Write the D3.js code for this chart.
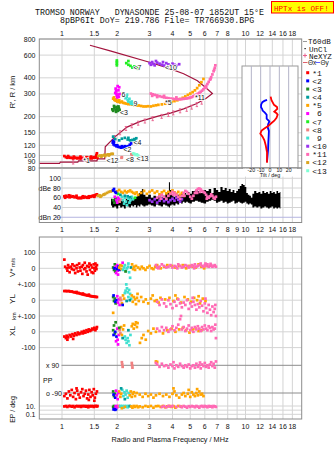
<!DOCTYPE html>
<html lang="en">
<head>
<meta charset="utf-8">
<title>Dynasonde ionogram</title>
<style>
  body { margin: 0; background: #fff; }
  svg { display: block; }
  text { font-family: "Liberation Sans", Arial, sans-serif; fill: #111; }
  .mono { font-family: "Liberation Mono", "DejaVu Sans Mono", monospace; white-space: pre; }
</style>
<script src="https://cdn.jsdelivr.net/npm/d3@7/dist/d3.min.js"></script>
</head>
<body>
<svg id="chart" width="335" height="451"></svg>
<script>
// ---- axes / categories ----
const freqTicks = [1, 1.5, 2, 3, 4, 5, 6, 7, 8, 9, 10, 12, 14, 16, 18];
const heightTicks = [80, 90, 100, 120, 150, 200, 300, 400, 600, 800];
const ampTicks = [20, 40, 60, 80, 100];
const tiltTicks = [-20, -10, 0, 10, 20];
const echoNames = ['*1', '<2', '<3', '<4', '*5', ' 6', '<7', '<8', ' 9', '<10', '*11', '<12', '<13'];
const echoColors = ['#ff0000', '#0000ff', '#208a20', '#009c9c', '#ffa500', '#ff00ff', '#22ee22',
                    '#f08080', '#40e0d0', '#9933ee', '#ff69b4', '#daa520', '#7fffd4'];

// ---- echo traces: [MHz, virtual height km] ----
const trace1 = [[1.03,99],[1.05,97],[1.07,96],[1.09,97],[1.11,96],[1.13,96],[1.15,95],[1.17,96],[1.19,96],[1.21,95],[1.23,96],[1.25,95],[1.27,95],[1.29,96],[1.31,95],[1.33,94],[1.35,95],[1.37,95],[1.39,96],[1.41,95],[1.43,96],[1.45,95],[1.47,96],[1.49,97],[1.51,96],[1.53,98],[1.54,101],[1.55,104],[1.55,99],[1.56,96],[1.08,99],[1.16,98],[1.26,98],[1.36,97],[1.44,98]];
const trace2 = [[1.89,126],[1.91,122],[1.94,120],[1.98,118],[2.02,117],[2.06,116],[2.1,115],[2.14,116],[2.18,115],[2.22,116],[2.26,117],[2.3,118],[2.34,121],[2.38,124],[1.9,130],[1.92,127],[2.0,120],[2.12,118],[2.2,118]];
const trace3 = [[1.88,228],[1.9,222],[1.93,232],[1.96,226],[1.98,238],[2.0,230],[2.02,222],[2.04,234],[2.06,226],[1.92,242],[1.97,218],[2.03,240]];
const trace4 = [[1.9,140],[1.95,134],[2.05,131],[2.12,135],[2.2,137],[2.28,133],[2.35,131],[2.42,132],[2.48,134],[2.54,136],[2.5,131],[2.3,137]];
const trace5 = [[1.9,276],[1.93,270],[1.96,266],[2.0,262],[2.04,260],[2.08,258],[2.12,262],[2.16,256],[2.2,254],[2.25,252],[2.3,250],[2.36,250],[2.42,248],[2.48,246],[2.55,244],[2.62,244],[2.7,242],[2.78,240],[2.86,240],[2.95,241],[3.05,240],[3.15,243],[3.25,245],[3.35,247],[3.5,249],[3.65,252],[3.8,256],[3.95,260],[4.1,264],[4.25,268],[4.4,274],[4.55,280],[4.7,287],[4.85,295],[5.0,302],[5.15,310],[5.3,320],[5.45,333],[5.6,350],[5.75,370],[5.9,392],[1.92,282],[1.98,272],[2.05,268]];
const trace6 = [[1.96,330],[1.97,315],[1.98,300],[1.99,290],[2.0,282],[2.02,296],[2.03,320],[2.05,338],[1.95,305],[2.04,285],[2.06,300],[2.01,345]];
const trace7 = [[1.99,545],[1.99,530],[1.99,515],[1.99,500],[2.24,520],[2.3,505],[2.36,495],[2.42,480],[2.48,490],[2.55,478],[2.6,470],[2.3,540]];
const trace8 = [[2.11,96],[2.12,97],[2.39,103],[2.4,101]];
const trace9 = [[2.2,290],[2.22,278],[2.25,285],[2.28,270],[2.3,262],[2.33,275],[2.36,258],[2.4,262],[2.43,250],[2.26,296],[2.38,252]];
const trace10 = [[3.0,520],[3.05,505],[3.1,530],[3.15,512],[3.2,500],[3.3,525],[3.4,515],[3.5,505],[3.6,498],[3.7,520],[3.8,508],[3.9,500],[4.0,515],[4.1,505],[4.2,495],[4.35,510],[3.25,540],[3.55,530]];
const trace11 = [[3.05,302],[3.12,298],[3.2,295],[3.3,292],[3.4,288],[3.5,285],[3.6,282],[3.7,280],[3.8,278],[3.9,276],[4.0,275],[4.1,274],[4.2,274],[4.3,273],[4.4,273],[4.5,274],[4.6,275],[4.7,276],[4.8,277],[4.9,279],[5.0,281],[5.1,284],[5.2,288],[5.3,292],[5.4,296],[5.5,301],[5.6,306],[5.7,312],[5.8,318],[5.9,326],[6.0,336],[6.1,346],[6.2,358],[6.3,372],[6.4,388],[6.5,405],[6.6,425],[6.7,450],[6.8,478],[6.85,500],[3.1,290],[3.3,284],[3.6,290],[4.2,282],[5.6,296],[6.1,335],[6.45,392],[6.75,462]];
const trace12 = [[1.58,99],[1.62,100],[1.66,100],[1.7,101],[1.74,101],[1.78,102],[1.82,102],[1.86,103],[1.89,103],[1.64,98],[1.72,99],[1.8,100]];
const trace13 = [[2.44,104],[2.48,103],[2.52,101],[2.56,102],[2.6,100]];
const echoLabels = [['*1',1.307,92],['<12',1.75,92],['<8',2.23,93],['<13',2.55,94],['<2',2.16,111],['<4',2.45,126],
                    ['<3',2.07,217],['6',2.11,295],['9',2.45,254],['<7',2.45,477],['<10',3.64,477],['*5',3.64,259],['*11',5.3,283]];

// real-height profile [MHz, km] and NeXYZ points
const profile = [[0.752,87],[0.97,87],[0.98,89],[1.22,89],[1.23,91],[1.55,91],[1.56,94],[1.71,94],[1.72,117],[1.95,140],[2.26,166],[2.67,184],[3.3,201],[3.9,213],[4.6,230],[5.35,251],[6.06,275],[6.6,302],[6.06,337],[5.47,380],[4.6,430],[3.8,476],[3.03,526],[1.83,647],[1.42,716]];
const neXYZ = [[1.15,89],[1.94,138],[2.07,150],[2.23,162],[2.4,170],[2.6,178],[2.83,185],[3.12,193],[3.49,201],[3.8,208],[4.04,214],[4.4,222],[4.78,228],[5.09,237],[5.43,248],[5.77,259]];

// tilt [km, deg]
const thetaX = [[286,0.7],[270,1.5],[247,4.3],[238,7.5],[230,7.8],[219,4.6],[213,7],[207,8.2],[196,7],[186,4.6],[177,1],[169,-2],[162,-6],[156,-9],[148,-10.4],[140,-8],[131,-6],[120,-4.6],[106,-3.2],[88,-3.2]];
const thetaY = [[270,-3.2],[265,-6],[259,-8.2],[248,-9.5],[237,-9.6],[230,-8.5],[223,-7.9],[215,-5.5],[207,-3.6],[193,-3.6],[184,-0.7],[175,-2],[166,-2.5],[155,-1.2],[143,-1.4],[127,-1.8],[110,-2.1],[89,-3.2]];

// ---- amplitude dB ----
const ampUnclassified = [[1.85,44,58],[1.9,40,55],[1.95,42,60],[2.0,38,52],[2.05,44,58],[2.1,40,56],[2.15,42,54],[2.2,38,50],[2.25,44,58],[2.3,42,56],[2.35,40,52],[2.4,44,60],[2.45,42,55],[2.5,45,58],[2.55,40,62],[2.6,44,66],[2.65,42,70],[2.7,46,74],[2.75,44,78],[2.8,42,66],[2.9,44,62],[3.0,46,66],[3.1,44,60],[3.2,42,64],[3.3,46,62],[3.4,44,66],[3.5,42,62],[3.6,46,64],[3.7,44,68],[3.8,42,74],[3.85,40,92],[3.9,44,76],[4.0,46,66],[4.1,44,62],[4.2,48,64],[4.3,46,66],[4.4,50,62],[4.5,48,68],[4.6,52,64],[4.7,50,70],[4.8,52,66],[4.9,50,72],[5.0,48,68],[5.2,52,74],[5.4,54,76],[5.6,52,74],[5.8,50,70],[6.0,48,76],[6.2,52,74],[6.4,54,78],[6.6,56,70],[6.8,54,80],[7.0,50,76],[7.2,52,72],[7.4,54,82],[7.6,50,76],[7.8,52,80],[8.0,48,74],[8.2,50,78],[8.4,52,72],[8.6,54,76],[8.8,48,70],[9.0,50,74],[9.2,52,78],[9.4,50,84],[9.6,48,88],[9.8,50,86],[10.0,52,82],[10.2,48,70],[10.4,46,66],[10.6,48,64],[10.8,46,60],[11.0,40,68],[11.3,42,74],[11.6,40,70],[11.9,42,72],[12.2,38,68],[12.5,40,74],[12.8,42,70],[13.1,40,72],[13.4,38,68],[13.7,40,74],[14.0,42,70],[14.3,38,72],[14.6,40,68],[14.9,38,74],[15.2,40,70],[15.5,38,72]];
const ampRed = [[1.03,63],[1.05,64],[1.07,62],[1.09,65],[1.11,64],[1.13,62],[1.15,63],[1.17,61],[1.19,62],[1.21,60],[1.23,59],[1.25,60],[1.27,59],[1.29,61],[1.31,60],[1.33,62],[1.35,61],[1.37,60],[1.39,62],[1.41,63],[1.43,62],[1.45,63],[1.47,64],[1.49,64],[1.51,65],[1.53,66],[1.55,67],[1.04,60],[1.1,61],[1.2,64],[1.3,63],[1.4,60],[1.5,62]];
const ampGold = [[1.57,64],[1.6,65],[1.64,64],[1.68,66],[1.72,68],[1.76,70],[1.8,72],[1.84,73],[1.88,74],[1.62,62],[1.7,67]];
const ampMix = [[1.9,55,3],[1.93,50,3],[1.96,58,3],[1.94,62,6],[1.98,55,6],[2.0,50,6],[2.02,60,6],[2.04,57,6],[2.06,52,8],[2.1,56,8],[2.0,73,5],[2.05,76,5],[2.1,72,5],[2.15,70,5],[2.2,74,5],[2.25,71,5],[2.3,73,5],[2.35,75,5],[2.4,72,5],[2.45,70,5],[2.5,68,5],[2.55,71,5],[2.12,62,9],[2.15,55,9],[2.18,48,9],[2.2,60,9],[2.23,52,9],[2.26,45,9],[2.3,58,9],[2.33,50,9],[2.36,55,9],[2.4,62,9],[2.43,57,9],[2.08,66,4],[2.2,64,4],[2.28,63,4],[2.35,61,4],[2.5,60,7],[2.02,68,7],[1.9,75,2],[1.92,78,2],[1.95,72,2],[1.97,70,2]];
const ampOrange = [[2.6,66],[2.7,70],[2.8,74],[2.9,68],[3.0,72],[3.1,75],[3.2,70],[3.3,73],[3.4,67],[3.5,71],[3.6,74],[3.7,69],[3.8,72],[3.9,70],[4.0,75],[4.1,71],[4.2,68],[4.3,72],[4.4,66],[4.5,70],[4.6,64]];
const ampPurple = [[3.0,55],[3.1,52],[3.2,57],[3.3,50],[3.4,54],[3.5,58],[3.6,53],[3.7,56],[3.8,51],[3.9,55],[4.0,58],[4.1,54],[4.2,60],[4.3,56],[4.4,52],[4.5,57]];
const ampPink = [[3.3,60],[3.4,63],[3.5,66],[3.6,62],[3.7,58],[3.8,64],[3.9,68],[4.0,72],[4.1,70],[4.2,66],[4.3,62],[4.4,58],[4.5,64],[4.6,70],[4.7,74],[4.8,72],[4.9,68],[5.0,62],[5.1,58],[5.2,64],[5.3,70],[5.4,75],[5.5,78],[5.6,79],[5.7,77],[5.8,74],[5.9,72],[6.0,70],[6.1,66],[6.2,62],[6.3,60],[6.4,63],[6.5,67],[6.6,64],[6.7,60],[6.8,58],[6.9,62],[3.45,58],[4.05,66],[4.65,64],[5.45,70],[5.65,72],[6.15,58]];

// ---- V* m/s ----
const vsRed = [[1.03,55],[1.04,10],[1.06,0],[1.07,-15],[1.08,20],[1.09,5],[1.1,-25],[1.12,10],[1.13,-5],[1.14,25],[1.16,-10],[1.17,15],[1.18,-30],[1.2,0],[1.21,20],[1.22,-20],[1.24,30],[1.25,5],[1.26,-15],[1.28,10],[1.29,-35],[1.3,20],[1.32,-5],[1.33,35],[1.34,0],[1.36,-20],[1.37,15],[1.38,-40],[1.4,10],[1.41,30],[1.42,-10],[1.44,20],[1.45,-25],[1.46,5],[1.48,-30],[1.49,25],[1.5,0],[1.51,-15],[1.52,30],[1.53,10],[1.54,-5],[1.55,20]];
const vsMix = [[1.9,5,3],[1.92,-10,3],[1.94,25,3],[1.95,-20,3],[1.96,10,6],[1.97,-30,6],[1.98,0,6],[2.0,20,6],[2.01,-15,6],[1.93,0,2],[1.99,-5,2],[2.03,10,2],[2.06,-10,2],[2.02,-40,6],[2.05,5,5],[2.08,20,5],[2.1,-5,5],[2.12,15,5],[2.15,-10,9],[2.18,5,9],[2.2,20,9],[2.23,-15,9],[2.26,0,9],[2.29,10,9],[2.32,-25,9],[2.35,-60,9],[2.38,5,4],[2.41,25,5],[2.44,-5,5],[2.47,10,5],[2.5,-10,5],[2.53,15,5],[2.22,-20,3],[2.3,30,9],[2.14,35,6]];
const vsOrange = [[2.6,5],[2.66,-5],[2.72,10],[2.78,0],[2.85,-10],[2.92,5],[3.0,15],[3.08,0],[3.15,-5],[3.22,10],[3.3,20],[3.38,5],[3.45,0],[3.6,10],[3.75,20],[3.95,15],[4.15,5],[4.35,15],[4.55,20],[4.75,0],[4.95,15],[5.15,10],[5.35,5],[5.55,25],[5.75,10],[5.95,0],[6.15,15]];
const vsPink = [[3.25,20],[3.3,5],[3.4,10],[3.5,25],[3.6,15],[3.7,5],[3.8,10],[3.9,20],[4.0,5],[4.1,15],[4.2,10],[4.3,25],[4.4,15],[4.5,5],[4.6,10],[4.7,20],[4.8,15],[4.9,5],[5.0,10],[5.1,20],[5.2,15],[5.3,25],[5.4,10],[5.5,15],[5.6,20],[5.7,30],[5.8,15],[5.9,10],[6.0,20],[6.1,15],[6.2,25],[6.3,10],[6.4,15],[6.5,20],[6.6,10],[6.7,15],[6.8,20],[6.9,10],[3.35,0],[4.25,0],[5.25,0],[6.05,30],[6.45,28]];

// ---- YL km ----
const ylRed = [[1.03,58],[1.05,58],[1.07,57],[1.09,58],[1.11,55],[1.13,55],[1.15,52],[1.17,50],[1.19,48],[1.21,45],[1.23,46],[1.25,42],[1.27,40],[1.29,38],[1.31,36],[1.33,34],[1.35,33],[1.37,30],[1.39,30],[1.41,28],[1.43,26],[1.45,25],[1.47,24],[1.49,23],[1.51,22],[1.53,21],[1.55,20],[1.2,52],[1.3,42],[1.4,35]];
const ylMix = [[1.9,20,3],[1.92,-5,3],[1.94,10,3],[1.96,-20,3],[1.91,30,2],[1.95,-10,2],[1.98,0,2],[2.0,25,6],[2.02,-15,6],[2.04,5,6],[2.06,-30,6],[2.08,15,8],[2.1,0,8],[2.12,-20,5],[2.15,30,5],[2.18,10,5],[2.2,45,9],[2.22,60,9],[2.24,100,9],[2.26,75,9],[2.28,50,9],[2.3,20,9],[2.32,65,9],[2.35,40,9],[2.38,10,9],[2.4,30,5],[2.43,-10,5],[2.46,20,5],[2.5,5,5],[2.53,-25,5],[2.56,15,5],[2.58,40,5],[1.9,-80,5],[2.14,-30,2],[2.25,-5,4],[2.34,0,4]];
const ylOrange = [[2.62,-5],[2.7,20],[2.78,-10],[2.86,5],[2.95,-20],[3.05,10],[3.12,30],[3.2,-5],[3.28,0],[3.36,-15],[3.44,15],[3.65,5],[3.85,15],[4.05,-5],[4.25,10],[4.45,-15],[4.65,20],[4.85,5],[5.05,-10],[5.25,15],[5.45,0],[5.65,-20],[5.85,10],[6.05,-5],[4.15,30],[5.55,25]];
const ylPink = [[3.3,-10],[3.4,-30],[3.5,5],[3.6,-20],[3.7,-40],[3.8,0],[3.9,-25],[4.0,-50],[4.1,-10],[4.2,-35],[4.3,5],[4.4,-20],[4.5,-45],[4.6,-15],[4.7,-30],[4.8,0],[4.9,-55],[5.0,-20],[5.1,-40],[5.2,-10],[5.3,-30],[5.4,-60],[5.5,-25],[5.6,-45],[5.7,-5],[5.8,-35],[5.9,-70],[6.0,-20],[6.1,-50],[6.2,-80],[6.3,-30],[6.4,-60],[6.5,-95],[6.6,-40],[6.7,-75],[6.8,-55],[6.9,-100],[6.85,-30],[6.05,10],[5.15,15]];

// ---- XL km ----
const xlRed = [[1.03,-30],[1.05,-40],[1.06,-25],[1.08,-35],[1.1,-20],[1.12,-30],[1.14,-15],[1.16,-25],[1.18,-10],[1.2,-20],[1.22,-5],[1.24,-15],[1.26,-10],[1.28,0],[1.3,-10],[1.32,5],[1.34,-5],[1.36,10],[1.38,0],[1.4,15],[1.42,5],[1.44,10],[1.46,20],[1.48,15],[1.5,25],[1.52,10],[1.54,20],[1.55,30],[1.07,-50],[1.15,-45]];
const xlMix = [[1.9,10,3],[1.92,40,3],[1.94,-10,3],[1.96,60,3],[1.91,-20,2],[1.95,0,2],[1.98,-30,2],[2.0,20,6],[2.01,-50,6],[2.02,-80,6],[2.04,-20,6],[2.06,10,8],[2.08,-10,8],[2.1,30,5],[2.12,-20,5],[2.15,15,5],[2.18,40,5],[2.2,-30,9],[2.22,-50,9],[2.25,-70,9],[2.28,-40,9],[2.3,-60,9],[2.33,-85,9],[2.36,-20,9],[2.4,35,5],[2.43,50,5],[2.46,20,5],[2.5,45,5],[2.53,60,5],[2.56,30,5],[2.58,55,5],[1.97,-60,6],[2.14,-40,4],[2.3,10,4],[2.05,25,3]];
const xlOrange = [[2.66,-70],[2.72,-40],[2.78,-20],[2.86,-50],[2.95,5],[3.05,-10],[3.15,20],[3.25,0],[3.55,-10],[3.75,10],[3.95,20],[4.15,0],[4.35,15],[4.55,25],[4.75,10],[4.95,-5],[5.15,15],[5.35,20],[5.55,5],[5.75,10]];
const xlPink = [[3.3,20],[3.4,5],[3.5,30],[3.6,10],[3.7,25],[3.8,0],[3.9,15],[4.0,35],[4.1,10],[4.2,25],[4.3,45],[4.4,80],[4.45,100],[4.5,15],[4.6,30],[4.7,5],[4.8,20],[4.9,40],[5.0,10],[5.1,25],[5.2,0],[5.3,30],[5.4,15],[5.5,35],[5.6,20],[5.7,5],[5.8,30],[5.9,15],[6.0,40],[6.1,20],[6.2,10],[6.3,35],[6.4,25],[6.5,5],[6.6,30],[6.7,15],[6.8,20],[6.9,-40],[6.85,45]];

// ---- PP deg ----
const ppX = [[2.12,110,8],[2.13,95,8],[2.14,80,8],[2.4,105,8],[2.41,90,8],[2.42,75,8],[3.25,115,5],[3.3,112,5]];
const ppXPink = [[3.25,105],[3.3,95],[3.4,80],[3.5,100],[3.6,85],[3.7,90],[3.8,75],[3.9,95],[4.0,85],[4.1,70],[4.2,90],[4.3,80],[4.4,100],[4.5,85],[4.6,75],[4.7,90],[4.8,80],[4.9,95],[5.0,70],[5.1,85],[5.2,90],[5.3,75],[5.4,100],[5.5,80],[5.6,90],[5.7,70],[5.8,95],[5.9,85],[6.0,105],[6.1,80],[6.2,90],[6.3,75],[6.4,95],[6.5,110],[6.6,85],[6.7,100],[6.8,75],[6.9,115],[4.05,110],[5.65,108]];
const ppORed = [[1.03,-110],[1.05,-95],[1.07,-125],[1.09,-80],[1.11,-105],[1.13,-70],[1.15,-115],[1.17,-90],[1.19,-130],[1.21,-75],[1.23,-100],[1.25,-120],[1.27,-85],[1.29,-65],[1.31,-110],[1.33,-95],[1.35,-75],[1.37,-125],[1.39,-100],[1.41,-70],[1.43,-115],[1.45,-85],[1.47,-105],[1.49,-65],[1.51,-120],[1.53,-95],[1.55,-80],[1.2,-60],[1.4,-135],[1.5,-140]];
const ppOMix = [[1.9,-80,3],[1.92,-110,3],[1.94,-95,3],[1.91,-100,2],[1.95,-120,2],[1.97,-75,6],[1.99,-105,6],[2.01,-130,6],[2.03,-90,6],[2.05,-80,5],[2.08,-115,5],[2.1,-95,5],[2.13,-70,9],[2.16,-110,9],[2.19,-85,9],[2.22,-100,9],[2.25,-75,9],[2.28,-120,9],[2.31,-90,9],[2.34,-105,5],[2.37,-80,5],[2.4,-115,5],[2.43,-95,5],[2.46,-85,5],[2.5,-110,5],[2.55,-90,5],[2.2,-130,4],[2.1,-60,4]];
const ppOOrange = [[2.65,-100],[2.75,-115],[2.85,-95],[2.95,-110],[3.05,-100],[3.15,-120],[3.25,-105],[3.4,-95],[3.55,-110],[3.7,-100],[3.85,-115],[4.0,-95],[4.1,-80],[4.2,-105],[4.35,-120],[4.5,-100],[4.6,-90],[4.7,-110],[4.85,-95],[5.0,-115],[5.1,-85],[5.2,-100],[5.3,-110],[5.4,-90],[5.5,-105],[5.6,-80],[5.7,-100],[5.8,-95],[5.9,-110],[4.05,-60],[4.9,-70],[5.45,-65]];

// ---- EP deg ----
const epRed = [[1.03,8],[1.05,14],[1.07,6],[1.09,10],[1.11,18],[1.13,7],[1.15,12],[1.17,5],[1.19,9],[1.21,15],[1.23,8],[1.25,11],[1.27,6],[1.29,13],[1.31,9],[1.33,20],[1.35,7],[1.37,10],[1.39,5],[1.41,12],[1.43,8],[1.45,16],[1.47,9],[1.49,6],[1.51,11],[1.53,14],[1.55,8],[1.56,22]];
const epMix = [[1.9,6,3],[1.92,10,3],[1.91,1.5,2],[1.93,2,2],[1.95,1.2,2],[1.97,1.8,2],[1.96,8,6],[1.98,14,6],[2.0,5,6],[2.02,9,6],[2.04,12,8],[2.06,7,8],[2.08,18,9],[2.1,6,9],[2.13,10,9],[2.16,4,9],[2.19,12,9],[2.22,7,9],[2.25,15,9],[2.28,5,9],[2.31,9,9],[2.34,11,4],[2.12,3,5],[2.2,6,5],[2.38,8,5],[2.42,4,5],[2.46,10,5],[2.5,6,5],[2.55,12,5],[2.6,5,5]];
const epOrange = [[2.65,8],[2.75,5],[2.85,12],[2.95,7],[3.05,10],[3.15,4],[3.25,9],[3.35,14],[3.45,6],[3.55,11],[3.65,5],[3.75,8],[3.85,13],[3.95,6],[4.05,9],[4.15,4],[4.3,10],[4.45,7]];
const epPink = [[3.5,6],[3.6,9],[3.7,5],[3.8,12],[3.9,7],[4.0,10],[4.2,6],[4.4,9],[4.5,5],[4.6,11],[4.7,7],[4.8,4],[4.9,9],[5.0,6],[5.1,12],[5.2,8],[5.3,5],[5.4,10],[5.5,7],[5.6,4],[5.7,9],[5.8,13],[5.9,6],[6.0,10],[6.1,8],[6.2,5],[6.3,11],[6.4,7],[6.5,9],[6.6,5],[6.7,12],[6.8,8],[6.9,6]];

// ---- scales ----
const L = 39.3, R = 301.7;
const x = d3.scaleLog().domain([0.752, 20.24]).range([L, R]);
const yH = d3.scaleLog().domain([80, 800]).range([168, 39]);
const yA = d3.scaleLinear().domain([0, 100]).range([227, 178.25]);
const yV = d3.scaleLinear().domain([-100, 100]).range([284.1, 252.5]);
const yYL = d3.scaleLinear().domain([-100, 100]).range([316, 284.4]);
const yXL = d3.scaleLinear().domain([-100, 100]).range([347.6, 316]);
const yPP = d3.scaleLinear().domain([-90, 90]).range([393, 365.3]);
const yEP = d3.scaleLog().domain([0.1, 10]).range([414.3, 406]).clamp(true);
const xT = d3.scaleLinear().domain([-30, 30]).range([242, 298]);

const svg = d3.select('#chart');
const grid = '#d4d4d4';
const frame = '#8c8c8c';
const S = 2.7; // point size

function hline(g, y, x1, color, w) {
  g.append('line').attr('x1', x1 == null ? L : x1).attr('x2', R).attr('y1', y).attr('y2', y)
    .attr('stroke', color || grid).attr('stroke-width', w || 1);
}
function vgrid(g, y1, y2) {
  g.selectAll(null).data(freqTicks).enter().append('line')
    .attr('x1', d => x(d)).attr('x2', d => x(d)).attr('y1', y1).attr('y2', y2)
    .attr('stroke', grid);
}
function box(y1, y2) {
  svg.append('rect').attr('x', L).attr('y', y1).attr('width', R - L).attr('height', y2 - y1)
    .attr('fill', 'none').attr('stroke', frame);
}
function pts(g, data, ys, color) {
  g.selectAll(null).data(data).enter().append('rect')
    .attr('x', d => x(d[0]) - S / 2).attr('y', d => ys(d[1]) - S / 2)
    .attr('width', S).attr('height', S)
    .attr('fill', d => color || echoColors[d[2] - 1]);
}
function freqLabels(y, ticks) {
  svg.append('g').selectAll('text').data(ticks).enter().append('text')
    .attr('x', d => x(d)).attr('y', y).attr('text-anchor', 'middle')
    .attr('font-size', 7).text(d => d);
}
function leftLabel(txt, y, size) {
  svg.append('text').attr('x', 35.5).attr('y', y + 2.5).attr('text-anchor', 'end')
    .attr('font-size', size || 7).text(txt);
}
function vTitle(cx, cy, parts) {
  const t = svg.append('text').attr('transform', `translate(${cx},${cy}) rotate(-90)`)
    .attr('text-anchor', 'middle');
  parts.forEach(p => t.append('tspan').attr('font-size', p[1]).text(p[0]));
}

// ---- header ----
svg.append('text').attr('class', 'mono').attr('x', 35).attr('y', 15).attr('font-size', 8.3)
  .attr('fill', '#000').text('TROMSO NORWAY   DYNASONDE 25-08-07 1852UT 15\u00b0E');
svg.append('text').attr('class', 'mono').attr('x', 60).attr('y', 23.3).attr('font-size', 8.3)
  .attr('fill', '#000').text('8pBP6It DoY= 219.786 File= TR766930.BPG');
svg.append('rect').attr('x', 271.5).attr('y', 1.5).attr('width', 62).attr('height', 11.5)
  .attr('fill', '#ffff00').attr('stroke', '#ff0000');
svg.append('text').attr('class', 'mono').attr('x', 274).attr('y', 10.6).attr('font-size', 7.6)
  .style('fill', '#ff0000').text('HPTx is OFF!');

const edgeTicks = freqTicks.filter(d => d !== 9);
freqLabels(36, edgeTicks);

// ---- top panel: virtual height ----
const gTop = svg.append('g');
vgrid(gTop, 39, 168);
heightTicks.forEach(h => hline(gTop, yH(h)));
heightTicks.forEach(h => leftLabel(h, yH(h)));
vTitle(15, 92, [["R', R / km", 7.5]]);

gTop.append('path').datum(profile)
  .attr('d', d3.line().x(d => x(d[0])).y(d => yH(d[1])))
  .attr('fill', 'none').attr('stroke', '#a3133d').attr('stroke-width', 1.2);
gTop.selectAll(null).data(neXYZ).enter().append('path')
  .attr('d', d => {
    const px = x(d[0]), py = yH(d[1]);
    return `M${px},${py - 2}V${py + 2}M${px - 1.2},${py - 2}H${px + 1.2}M${px - 1.2},${py + 2}H${px + 1.2}`;
  })
  .attr('stroke', '#e8608c').attr('stroke-width', 0.9).attr('fill', 'none');

const traces = [trace1, trace2, trace3, trace4, trace5, trace6, trace7, trace8, trace9, trace10, trace11, trace12, trace13];
const drawOrder = [0, 11, 2, 3, 1, 4, 5, 8, 6, 7, 12, 9, 10];
drawOrder.forEach(i => pts(gTop, traces[i], yH, echoColors[i]));

gTop.selectAll(null).data(echoLabels).enter().append('text')
  .attr('x', d => x(d[1])).attr('y', d => yH(d[2]) + 2.5)
  .attr('font-size', 7).attr('fill', '#000')
  .attr('stroke', '#fff').attr('stroke-width', 1.6).attr('paint-order', 'stroke')
  .text(d => d[0]);

// tilt inset
const gT = svg.append('g');
gT.append('rect').attr('x', xT(-30)).attr('y', 66).attr('width', xT(30) - xT(-30)).attr('height', 102)
  .attr('fill', '#fff').attr('stroke', '#999');
gT.selectAll(null).data(tiltTicks).enter().append('line')
  .attr('x1', d => xT(d)).attr('x2', d => xT(d)).attr('y1', 66).attr('y2', 168)
  .attr('stroke', '#b4b4c8');
const tiltLine = d3.line().x(d => xT(d[1])).y(d => yH(d[0]));
gT.append('path').datum(thetaY).attr('d', tiltLine).attr('fill', 'none')
  .attr('stroke', '#0000ff').attr('stroke-width', 1.8);
gT.append('path').datum(thetaX).attr('d', tiltLine).attr('fill', 'none')
  .attr('stroke', '#ff0000').attr('stroke-width', 1.8);

box(39, 168);

// ---- amplitude panel ----
const gA = svg.append('g');
vgrid(gA, 168, 222.5);
hline(gA, yA(100), 62);
hline(gA, yA(80), 54);
hline(gA, yA(60), 62);
hline(gA, yA(40), 62);
hline(gA, yA(20), 55, '#b4b4e0');
gA.append('path').datum(ampUnclassified)
  .attr('d', d3.area().x(d => x(d[0])).y0(d => yA(d[1])).y1(d => yA(d[2])).curve(d3.curveStep))
  .attr('fill', '#000');
pts(gA, ampRed, yA, echoColors[0]);
pts(gA, ampGold, yA, echoColors[11]);
pts(gA, ampMix, yA);
pts(gA, ampPurple, yA, echoColors[9]);
pts(gA, ampOrange, yA, echoColors[4]);
pts(gA, ampPink, yA, echoColors[10]);
[[100, 'end', 61], [60, 'end', 61], [40, 'end', 61]].forEach(d =>
  svg.append('text').attr('x', d[2]).attr('y', yA(d[0]) + 2.5).attr('text-anchor', d[1])
    .attr('font-size', 7).text(d[0]));
svg.append('text').attr('x', 38.5).attr('y', yA(80) + 2.5).attr('font-size', 7).text('dBe 80');
svg.append('text').attr('x', 38.5).attr('y', yA(20) + 2.5).attr('font-size', 7).text('dBn 20');
box(168, 222.5);

// tilt axis labels sit over the amplitude panel edge
svg.append('rect').attr('x', 243).attr('y', 168.6).attr('width', 54).attr('height', 8).attr('fill', '#fff');
svg.selectAll(null).data(tiltTicks).enter().append('text')
  .attr('x', d => xT(d)).attr('y', 172).attr('text-anchor', 'middle')
  .attr('font-size', 5.2).text(d => d);
svg.append('text').attr('x', xT(0)).attr('y', 176.6).attr('text-anchor', 'middle')
  .attr('font-size', 5.4).text('Tilt / deg');

freqLabels(231.5, freqTicks);

// ---- bottom panel: V*, YL, XL, PP, EP ----
const gB = svg.append('g');
vgrid(gB, 237, 419);
[yV(100), yV(0), yV(-100), yYL(0), yXL(100), yXL(0), yXL(-100)].forEach(y => hline(gB, y));
[10, 1, 0.1].forEach(v => hline(gB, yEP(v)));
hline(gB, yPP(90), 61.5, '#8c8c8c');
hline(gB, yPP(-90), 63, '#8c8c8c');

pts(gB, vsRed, yV, echoColors[0]);
pts(gB, vsMix, yV);
pts(gB, vsOrange, yV, echoColors[4]);
pts(gB, vsPink, yV, echoColors[10]);

pts(gB, ylRed, yYL, echoColors[0]);
pts(gB, ylMix, yYL);
pts(gB, ylOrange, yYL, echoColors[4]);
pts(gB, ylPink, yYL, echoColors[10]);

pts(gB, xlRed, yXL, echoColors[0]);
pts(gB, xlMix, yXL);
pts(gB, xlOrange, yXL, echoColors[4]);
pts(gB, xlPink, yXL, echoColors[10]);

pts(gB, ppX, yPP);
pts(gB, ppXPink, yPP, echoColors[10]);
pts(gB, ppORed, yPP, echoColors[0]);
pts(gB, ppOMix, yPP);
pts(gB, ppOOrange, yPP, echoColors[4]);

pts(gB, epRed, yEP, echoColors[0]);
pts(gB, epOrange, yEP, echoColors[4]);
pts(gB, epPink, yEP, echoColors[10]);
pts(gB, epMix, yEP);

box(237, 419);

leftLabel('100', yV(100));
leftLabel('0', yV(0));
leftLabel('+-100', yV(-100));
leftLabel('0', yYL(0));
leftLabel('+-100', yXL(100));
leftLabel('0', yXL(0));
leftLabel('-100', yXL(-100));
leftLabel('10.', yEP(10));
leftLabel('0.1', yEP(0.1));
svg.append('text').attr('x', 46).attr('y', yPP(90) + 2.5).attr('font-size', 7).text('x  90');
svg.append('text').attr('x', 43).attr('y', 382.5).attr('font-size', 7).text('PP');
svg.append('text').attr('x', 46).attr('y', yPP(-90) + 2.5).attr('font-size', 7).text('o -90');

vTitle(15, 267.5, [['V*', 8], [' m/s', 5.5]]);
vTitle(15, 299, [['YL', 8]]);
vTitle(15.5, 316, [['km', 5.5]]);
vTitle(15, 331, [['XL', 8]]);
vTitle(15, 409.5, [['EP / deg', 7]]);

freqLabels(428.5, edgeTicks);
svg.append('text').attr('x', 170).attr('y', 441.5).attr('text-anchor', 'middle')
  .attr('font-size', 7.3).text('Radio and Plasma Frequency / MHz');

// ---- legend ----
const gL = svg.append('g');
gL.append('line').attr('x1', 303).attr('x2', 307).attr('y1', 41.5).attr('y2', 41.5).attr('stroke', '#999');
gL.append('text').attr('class', 'mono').attr('x', 308).attr('y', 44).attr('font-size', 7.6).text('T60dB');
gL.append('rect').attr('x', 304.5).attr('y', 48).attr('width', 1.2).attr('height', 1.2).attr('fill', '#000');
gL.append('text').attr('class', 'mono').attr('x', 309).attr('y', 51.5).attr('font-size', 7.6).text('UnCl');
gL.append('path').attr('d', 'M303,55.5H307M305,53.5V57.5').attr('stroke', '#e8608c');
gL.append('text').attr('class', 'mono').attr('x', 309).attr('y', 58.5).attr('font-size', 7.6).text('NeXYZ');
gL.append('line').attr('x1', 303).attr('x2', 307.5).attr('y1', 62.5).attr('y2', 62.5).attr('stroke', '#e0606a');
gL.append('text').attr('x', 308).attr('y', 65).attr('font-size', 6.5).text('\u0398x');
gL.append('line').attr('x1', 315.5).attr('x2', 320).attr('y1', 62.5).attr('y2', 62.5).attr('stroke', '#6060ff');
gL.append('text').attr('x', 320.5).attr('y', 65).attr('font-size', 6.5).text('\u0398y');

const legendRows = gL.selectAll(null).data(echoNames).enter().append('g')
  .attr('transform', (d, i) => `translate(0,${72.7 + i * 8.17})`);
legendRows.append('rect').attr('x', 306.2).attr('y', -1.5).attr('width', 3).attr('height', 3)
  .attr('fill', (d, i) => echoColors[i]);
legendRows.append('text').attr('class', 'mono').attr('x', 312.3).attr('y', 2.8)
  .attr('font-size', 8).attr('fill', '#000').text(d => d);
</script>
</body>
</html>
